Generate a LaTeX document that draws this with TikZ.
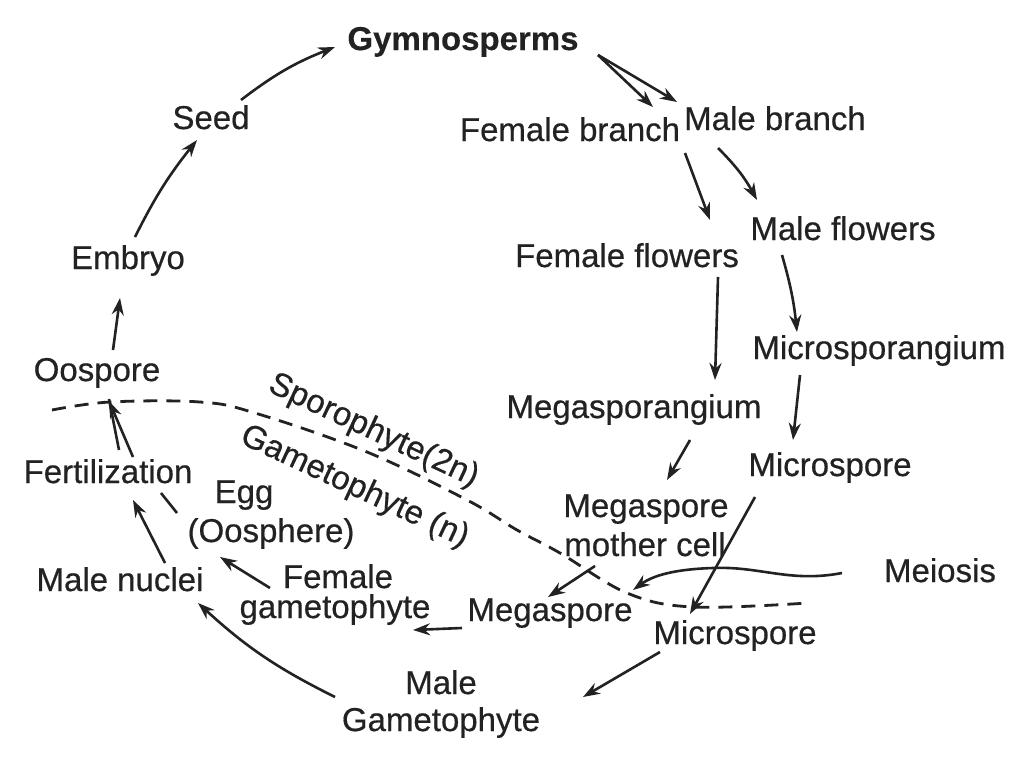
\documentclass[tikz,border=0pt]{standalone}
\usepackage{fontspec}
\setmainfont{Liberation Sans}[FakeBold=0.5, BoldFeatures={FakeBold=0.3}]
\usetikzlibrary{arrows.meta}
\definecolor{ink}{HTML}{222222}
\begin{document}
\begin{tikzpicture}[x=1pt,y=-1pt,
  lbl/.style={inner sep=0pt, text height=24pt, text depth=0pt,
    font=\fontsize{33}{38}\selectfont, text=ink},
  arr/.style={draw=ink, line width=2.6pt, -{Stealth[length=17pt,width=12pt]}},
  ln/.style={draw=ink, line width=2.6pt},
  phase/.style={draw=ink, line width=2.8pt, dash pattern=on 14pt off 9pt}]
\useasboundingbox[fill=white] (0,0) rectangle (1024,768);

% labels
\node[lbl,font=\fontsize{33}{38}\selectfont\bfseries] (gym) at (463,38) {Gymnosperms};
\node[lbl] (seed) at (211,117) {Seed};
\node[lbl] (embryo) at (128,257) {Embryo};
\node[lbl] (oospore) at (97,369) {Oospore};
\node[lbl] (fert) at (108,471) {Fertilization};
\node[lbl] (egg) at (244,491) {Egg};
\node[lbl] (oosph) at (271,530) {(Oosphere)};
\node[lbl] (malenuc) at (120,579) {Male nuclei};
\node[lbl] (femgam1) at (338,576) {Female};
\node[lbl] (femgam2) at (335,606) {gametophyte};
\node[lbl] (megaspore) at (550,609) {Megaspore};
\node[lbl] (microlow) at (735,632) {Microspore};
\node[lbl] (malegam1) at (441,682) {Male};
\node[lbl] (malegam2) at (441,719) {Gametophyte};
\node[lbl] (fbranch) at (570,129) {Female branch};
\node[lbl] (mbranch) at (775,118) {Male branch};
\node[lbl] (mflowers) at (843,228) {Male flowers};
\node[lbl] (fflowers) at (627,255) {Female flowers};
\node[lbl] (microspg) at (879,347) {Microsporangium};
\node[lbl] (megaspg) at (634,406) {Megasporangium};
\node[lbl] (microup) at (830,464) {Microspore};
\node[lbl] (mmc1) at (646,505) {Megaspore};
\node[lbl] (mmc2) at (645,544) {mother cell};
\node[lbl] (meiosis) at (940,570) {Meiosis};

% phase boundary
\draw[phase] plot[smooth, tension=0.6] coordinates {(52,410) (110,402) (200,402) (255,413) (367,452) (467,500) (517,530) (560,553) (627,593) (693,607) (808,603)};
\node[lbl, rotate=-25] (sporo) at (375,428) {Sporophyte(2n)};
\node[lbl, rotate=-25] (gameto) at (356,484) {Gametophyte (n)};

% arrows
\draw[arr] ([xshift=30pt,yshift=17pt]seed.center) to[bend left=8] ([xshift=-128pt,yshift=-9pt]gym.center);
\draw[arr] ([xshift=135pt,yshift=-17pt]gym.center) -- ([xshift=83pt,yshift=22pt]fbranch.center);
\draw[arr] ([xshift=135pt,yshift=-17pt]gym.center) -- ([xshift=-98pt,yshift=16pt]mbranch.center);
\draw[arr] ([xshift=115pt,yshift=-24pt]fbranch.center) -- ([xshift=83pt,yshift=35pt]fflowers.center);
\draw[arr] ([xshift=-57pt,yshift=-30pt]mbranch.center) to[bend left=8] ([xshift=-86pt,yshift=28pt]mflowers.center);
\draw[arr] ([xshift=91pt,yshift=-22pt]fflowers.center) -- ([xshift=81pt,yshift=26pt]megaspg.center);
\draw[arr] ([xshift=-61pt,yshift=-27pt]mflowers.center) to[bend left=5] ([xshift=-82pt,yshift=15pt]microspg.center);
\draw[arr] ([xshift=-79pt,yshift=-28pt]microspg.center) -- ([xshift=-37pt,yshift=24pt]microup.center);
\draw[arr] ([xshift=56pt,yshift=-34pt]megaspg.center) -- ([xshift=21pt,yshift=25pt]mmc1.center);
\draw[arr] ([xshift=-50pt,yshift=-22pt]mmc2.center) -- ([xshift=-2pt,yshift=12pt]megaspore.center);
\draw[arr] ([xshift=-75pt,yshift=-33pt]microup.center) -- ([xshift=-45pt,yshift=18pt]microlow.center);
\coordinate (meioend) at (633,590);
\draw[arr] ([xshift=-98pt,yshift=-3pt]meiosis.center) .. controls (790,583) and (760,566) .. (713,568) .. controls (680,569) and (655,574) .. (meioend);
\draw[arr] ([xshift=-75pt,yshift=-20pt]microlow.center) -- ([xshift=142pt,yshift=-15pt]malegam1.center);
\draw[arr] ([xshift=-88pt,yshift=-19pt]megaspore.center) -- ([xshift=78pt,yshift=-24pt]femgam2.center);
\draw[arr] ([xshift=-106pt,yshift=22pt]malegam2.center) to[bend left=8] ([xshift=78pt,yshift=-24pt]malenuc.center);
\draw[arr] ([xshift=-68pt,yshift=-12pt]femgam1.center) -- ([xshift=-51pt,yshift=-27pt]oosph.center);
\draw[arr] ([xshift=45pt,yshift=16pt]malenuc.center) -- ([xshift=25pt,yshift=-29pt]fert.center);
\draw[ln] ([xshift=53pt,yshift=-22pt]fert.center) -- ([xshift=-94pt,yshift=17pt]oosph.center);
\draw[ln] ([xshift=11pt,yshift=21pt]fert.center) -- ([xshift=12pt,yshift=-30pt]oospore.center);
\draw[arr] ([xshift=25pt,yshift=14pt]fert.center) -- ([xshift=12pt,yshift=-32pt]oospore.center);
\draw[arr] ([xshift=16pt,yshift=19pt]oospore.center) -- ([xshift=-8pt,yshift=-41pt]embryo.center);
\draw[arr] ([xshift=7pt,yshift=20pt]embryo.center) to[bend left=6] ([xshift=-14pt,yshift=-23pt]seed.center);
\end{tikzpicture}
\end{document}
